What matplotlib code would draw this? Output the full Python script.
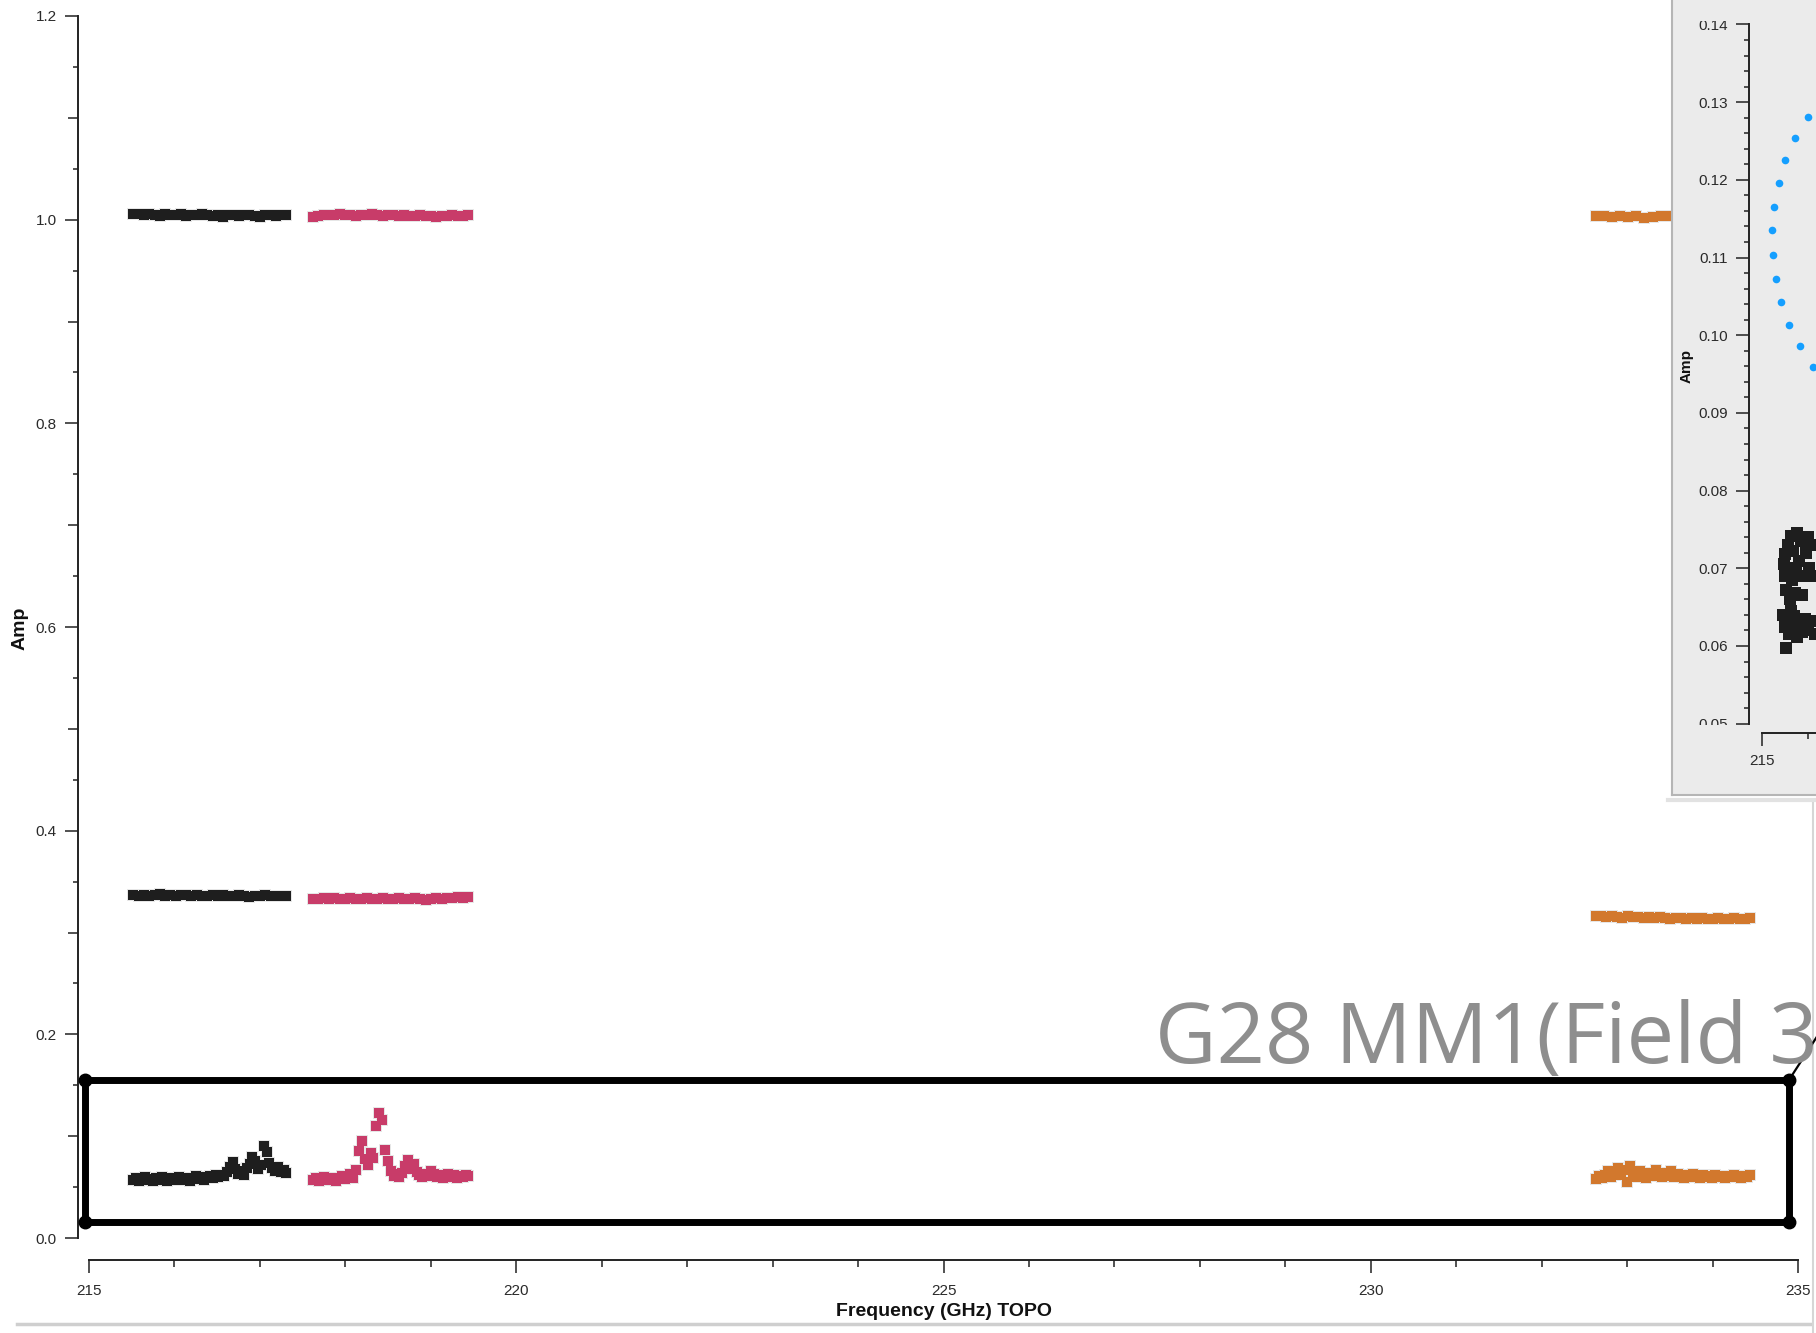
import numpy as np
import matplotlib
matplotlib.use("Agg")
import matplotlib.pyplot as plt
import matplotlib.ticker as mticker
from matplotlib.lines import Line2D
from matplotlib.transforms import Bbox, TransformedBbox

# ---- spectral windows (GHz) ----
SPW_BLACK = (215.52, 217.31)
SPW_PINK = (217.62, 219.44)
SPW_ORANGE = (232.63, 234.44)

# amplitudes per channel, three calibrator/target levels per spw
black_hi = [1.006, 1.006, 1.005, 1.006, 1.005, 1.004, 1.006, 1.005, 1.005, 1.006,
            1.004, 1.005, 1.005, 1.006, 1.005, 1.004, 1.005, 1.003, 1.005, 1.005,
            1.004, 1.005, 1.005, 1.004, 1.003, 1.005, 1.005, 1.004, 1.005, 1.005]
pink_hi = [1.003, 1.004, 1.005, 1.005, 1.005, 1.006, 1.005, 1.005, 1.004, 1.005,
           1.005, 1.006, 1.005, 1.004, 1.005, 1.005, 1.004, 1.005, 1.004, 1.004,
           1.005, 1.004, 1.004, 1.003, 1.004, 1.004, 1.005, 1.004, 1.004, 1.005]
orange_hi = [1.004, 1.004, 1.003, 1.004, 1.003, 1.004, 1.002, 1.003, 1.004, 1.004,
             1.003, 1.004, 1.003, 1.004, 1.004, 1.003, 1.004, 1.003, 1.004, 1.003]

black_mid = [0.337, 0.336, 0.337, 0.336, 0.337, 0.338, 0.336, 0.337, 0.336, 0.337,
             0.337, 0.336, 0.337, 0.336, 0.336, 0.337, 0.336, 0.337, 0.336, 0.336,
             0.337, 0.336, 0.335, 0.336, 0.336, 0.337, 0.336, 0.336, 0.336, 0.336]
pink_mid = [0.333, 0.333, 0.334, 0.333, 0.334, 0.333, 0.333, 0.334, 0.333, 0.333,
            0.334, 0.333, 0.333, 0.334, 0.333, 0.333, 0.334, 0.333, 0.333, 0.334,
            0.333, 0.332, 0.333, 0.334, 0.333, 0.334, 0.334, 0.335, 0.334, 0.335]
orange_mid = [0.316, 0.316, 0.315, 0.316, 0.315, 0.314, 0.316, 0.315, 0.315, 0.314,
              0.315, 0.314, 0.315, 0.314, 0.313, 0.314, 0.314, 0.313, 0.314, 0.313,
              0.314, 0.313, 0.313, 0.314, 0.313, 0.313, 0.314, 0.313, 0.313, 0.314]

black_lo = [0.057, 0.059, 0.056, 0.058, 0.060, 0.057, 0.058, 0.056, 0.059, 0.057,
            0.060, 0.058, 0.056, 0.059, 0.057, 0.058, 0.060, 0.057, 0.059, 0.058,
            0.056, 0.059, 0.061, 0.058, 0.060, 0.057, 0.059, 0.061, 0.059, 0.062,
            0.060, 0.062, 0.061, 0.065, 0.070, 0.075, 0.068, 0.063, 0.066, 0.062,
            0.069, 0.073, 0.080, 0.076, 0.068, 0.072, 0.090, 0.084, 0.074, 0.069,
            0.066, 0.070, 0.065, 0.067, 0.064]
pink_lo = [0.057, 0.059, 0.056, 0.058, 0.060, 0.057, 0.059, 0.058, 0.056, 0.059,
           0.061, 0.058, 0.060, 0.063, 0.059, 0.067, 0.085, 0.095, 0.078, 0.072,
           0.083, 0.079, 0.110, 0.123, 0.116, 0.086, 0.076, 0.066, 0.061, 0.063,
           0.060, 0.064, 0.071, 0.077, 0.068, 0.073, 0.065, 0.062, 0.060, 0.063,
           0.061, 0.066, 0.063, 0.060, 0.062, 0.059, 0.061, 0.063, 0.060, 0.062,
           0.059, 0.061, 0.060, 0.062, 0.061]
orange_lo = [0.058, 0.061, 0.059, 0.062, 0.066, 0.060, 0.064, 0.069, 0.062, 0.067,
             0.055, 0.071, 0.063, 0.060, 0.066, 0.062, 0.059, 0.064, 0.061, 0.067,
             0.062, 0.060, 0.064, 0.061, 0.066, 0.060, 0.063, 0.061, 0.059, 0.062,
             0.060, 0.063, 0.061, 0.059, 0.062, 0.060, 0.061, 0.059, 0.062, 0.060,
             0.061, 0.059, 0.061, 0.060, 0.062, 0.060, 0.059, 0.061, 0.060, 0.062]

# zoomed panel: one spw at low amplitude plus a model curve
zoom_blk_freq = [215.47, 215.49, 215.51, 215.53, 215.56, 215.58, 215.62, 215.65, 215.68, 215.72,
                 215.76, 215.80, 215.85, 215.90, 215.96, 216.03, 216.10, 215.60, 215.74, 215.88,
                 216.00, 216.14,
                 215.46, 215.49, 215.52, 215.55, 215.58, 215.62, 215.66, 215.70, 215.75, 215.80,
                 215.86, 215.93, 216.00, 216.08, 216.15]
zoom_blk_amp = [0.0705, 0.0690, 0.0718, 0.0672, 0.0730, 0.0700, 0.0742, 0.0685, 0.0722, 0.0668,
                0.0745, 0.0710, 0.0735, 0.0690, 0.0720, 0.0700, 0.0730, 0.0660, 0.0695, 0.0665,
                0.0740, 0.0690,
                0.0640, 0.0625, 0.0598, 0.0635, 0.0615, 0.0645, 0.0620, 0.0638, 0.0612, 0.0630,
                0.0618, 0.0635, 0.0620, 0.0632, 0.0615]
zoom_blue_freq = [216.00, 215.72, 215.50, 215.37, 215.26, 215.22, 215.24, 215.30, 215.41, 215.59,
                  215.83, 216.11]
zoom_blue_amp = [0.1281, 0.1254, 0.1225, 0.1196, 0.1165, 0.1135, 0.1103, 0.1072, 0.1043, 0.1013,
                 0.0986, 0.0959]

C_BLACK = "#1e1e1e"
C_PINK = "#c83c69"
C_ORANGE = "#d2782d"
C_BLUE = "#159fff"
TXT = "#2a2a2a"

W, H = 1816, 1333
fig = plt.figure(figsize=(W / 100, H / 100), dpi=100)
fig.patch.set_facecolor("white")
plt.rcParams["font.family"] = ["Liberation Sans", "DejaVu Sans"]


def fx(px):
    return px / W


def fy(py):
    return 1 - py / H


def rect(left, top, right, bottom):
    return [fx(left), fy(bottom), (right - left) / W, (bottom - top) / H]


# ---- main plot ----
ax = fig.add_axes(rect(78, 16, 1816, 1260))
ax.set_facecolor("none")
ax.set_xlim(214.871, 235.21)
ax.set_ylim(-0.0216, 1.2)

for (lo, hi), rows, col in [(SPW_BLACK, [black_hi, black_mid, black_lo], C_BLACK),
                            (SPW_PINK, [pink_hi, pink_mid, pink_lo], C_PINK),
                            (SPW_ORANGE, [orange_hi, orange_mid, orange_lo], C_ORANGE)]:
    for amps in rows:
        freq = np.linspace(lo, hi, len(amps))
        # soft grey rim under the points
        ax.plot(freq, amps, ls="none", marker="s", ms=9, mew=0, color="#e6e6e6", zorder=1)
        ax.plot(freq, amps, ls="none", marker="s", ms=7.3, mew=0, color=col, zorder=2)

for s in ["top", "right"]:
    ax.spines[s].set_visible(False)
ax.spines["left"].set_bounds(0, 1.2)
ax.spines["bottom"].set_bounds(215, 235)
for s in ["left", "bottom"]:
    ax.spines[s].set_linewidth(1.4)
    ax.spines[s].set_color("#222222")

ax.xaxis.set_major_locator(mticker.FixedLocator([215, 220, 225, 230, 235]))
ax.xaxis.set_minor_locator(mticker.FixedLocator(np.arange(216, 235, 1)))
ax.yaxis.set_major_locator(mticker.FixedLocator(np.arange(0, 1.21, 0.2)))
ax.yaxis.set_minor_locator(mticker.FixedLocator(np.arange(0.05, 1.2, 0.05)))
ax.yaxis.set_major_formatter(mticker.FormatStrFormatter("%.1f"))
ax.tick_params(which="major", length=9.4, width=1.1, color="#222222",
               labelsize=11, labelcolor=TXT)
ax.tick_params(which="minor", length=3.6, width=1.1, color="#222222")
ax.tick_params(axis="x", which="major", pad=8)
ax.tick_params(axis="x", which="minor", length=5)
ax.tick_params(axis="y", which="major", pad=6)
# every 0.1 gets a medium tick
for t, loc in zip(ax.yaxis.get_minor_ticks(), ax.yaxis.get_minorticklocs()):
    if abs(round(loc / 0.1) * 0.1 - loc) < 1e-6:
        t.tick1line.set_markersize(7.2)

fig.text(fx(944), fy(1312), "Frequency (GHz) TOPO", ha="center", va="center",
         fontsize=14, fontweight="bold", color="#111111")
fig.text(fx(20), fy(628), "Amp", ha="center", va="center", rotation=90,
         fontsize=14, fontweight="bold", color="#111111")

# ---- zoomed panel in the upper right ----
panel = fig.add_axes(rect(1672, 0, 1816, 795), zorder=3)
panel.set_facecolor("#ebebeb")
panel.set_xticks([])
panel.set_yticks([])
for s in ["top", "right"]:
    panel.spines[s].set_visible(False)
for s in ["left", "bottom"]:
    panel.spines[s].set_color("#b5b5b5")
    panel.spines[s].set_linewidth(1.5)
fig.add_artist(Line2D([fx(1668), fx(1816)], [fy(800), fy(800)], color="#e2e2e2",
                      lw=3, zorder=3))

axz = fig.add_axes(rect(1749, 19, 1816, 733), zorder=4)
axz.set_facecolor("none")
axz.set_xlim(214.717, 216.174)
axz.set_ylim(0.0488, 0.1407)
axz.plot(zoom_blk_freq, zoom_blk_amp, ls="none", marker="s", ms=8, mew=0, color=C_BLACK)
axz.plot(zoom_blue_freq, zoom_blue_amp, ls="none", marker="o", ms=5.5, mew=0, color=C_BLUE)
for s in ["top", "right"]:
    axz.spines[s].set_visible(False)
axz.spines["left"].set_bounds(0.05, 0.14)
axz.spines["bottom"].set_bounds(215, 216.174)
for s in ["left", "bottom"]:
    axz.spines[s].set_linewidth(1.4)
    axz.spines[s].set_color("#222222")
axz.xaxis.set_major_locator(mticker.FixedLocator([215]))
axz.xaxis.set_minor_locator(mticker.FixedLocator([216]))
axz.yaxis.set_major_locator(mticker.FixedLocator(np.arange(0.05, 0.1401, 0.01)))
axz.yaxis.set_minor_locator(mticker.FixedLocator(np.arange(0.052, 0.14, 0.002)))
axz.yaxis.set_major_formatter(mticker.FormatStrFormatter("%.2f"))
axz.tick_params(which="major", length=9.4, width=1.1, color="#222222",
                labelsize=11, labelcolor=TXT, pad=6)
axz.tick_params(which="minor", length=3.6, width=1.1, color="#222222")
axz.tick_params(axis="x", which="minor", length=4.5)
clip = TransformedBbox(Bbox([[fx(1672), fy(725)], [fx(1749), fy(21)]]), fig.transFigure)
for t in axz.yaxis.get_major_ticks():
    t.label1.set_clip_box(clip)
    t.label1.set_clip_on(True)
fig.text(fx(1687), fy(366), "Amp", ha="center", va="center", rotation=90,
         fontsize=11, fontweight="bold", color="#111111", zorder=5)

# ---- annotation: box round the low-amplitude rows, label and pointer ----
bx0, by0, bx1, by1 = 85, 1080, 1789, 1222
fig.add_artist(Line2D([fx(bx0), fx(bx1), fx(bx1), fx(bx0), fx(bx0)],
                      [fy(by0), fy(by0), fy(by1), fy(by1), fy(by0)],
                      color="black", lw=5, solid_joinstyle="round", zorder=6))
fig.add_artist(Line2D([fx(bx0), fx(bx1), fx(bx1), fx(bx0)],
                      [fy(by0), fy(by0), fy(by1), fy(by1)], ls="none",
                      marker="o", ms=9, color="black", zorder=6))
fig.add_artist(Line2D([fx(bx1), fx(1818)], [fy(by0), fy(1035)], color="black",
                      lw=1.6, zorder=6))
fig.text(fx(1155), fy(1063), "G28 MM1(Field 3", ha="left", va="baseline",
         fontsize=61, color="#8e8e8e", family=["Open Sans", "DejaVu Sans"], zorder=6)

# window frame lines
fig.add_artist(Line2D([fx(17), fx(1810)], [fy(1324), fy(1324)], color="#cfcfcf", lw=2.5))
fig.add_artist(Line2D([fx(1813), fx(1813)], [fy(803), fy(1333)], color="#d6d6d6", lw=1.5))

fig.savefig("out.png", dpi=100, facecolor="white")
